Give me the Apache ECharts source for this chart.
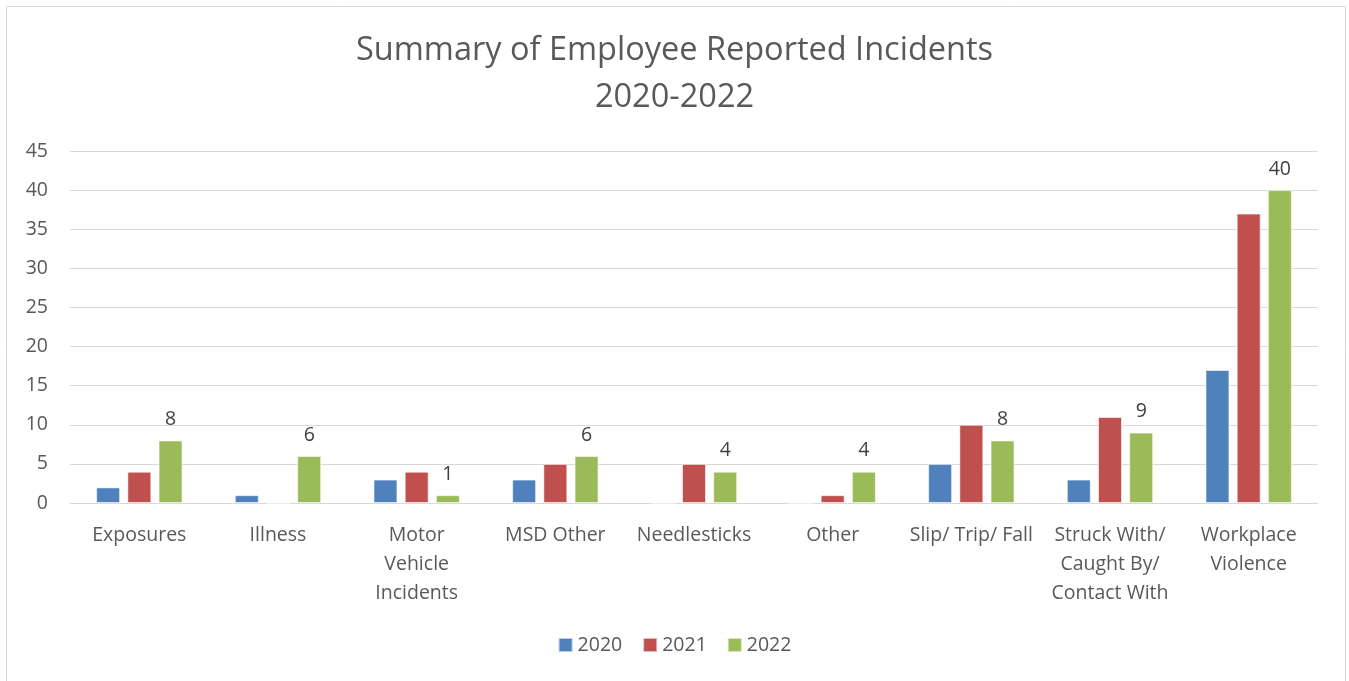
<!DOCTYPE html>
<html>
<head>
<meta charset="utf-8">
<script src="https://cdn.jsdelivr.net/npm/echarts@6/dist/echarts.min.js"></script>
<style>
html,body{margin:0;padding:0;background:#fff;}
#chart{width:1349px;height:681px;}
</style>
</head>
<body>
<div id="chart"></div>
<script>
const categories = ['Exposures','Illness','Motor\nVehicle\nIncidents','MSD Other','Needlesticks','Other','Slip/ Trip/ Fall','Struck With/\nCaught By/\nContact With','Workplace\nViolence'];
const years = ['2020','2021','2022'];
const values2020 = [2,1,3,3,0,0,5,3,17];
const values2021 = [4,0,4,5,5,1,10,11,37];
const values2022 = [8,6,1,6,4,4,8,9,40];
const colors = ['#4f81bd','#c0504d','#9bbb59'];
const font = '"Open Sans", "Liberation Sans", sans-serif';

const chart = echarts.init(document.getElementById('chart'));
const mkSeries = (name, data, color, label) => ({
  name, type:'bar', data,
  barWidth: 24, barGap: '30%',
  itemStyle:{color, borderColor:'rgba(255,255,255,0.6)', borderWidth:1},
  label:{show:label, position:'top', color:'#404040', fontSize:19.5, fontFamily:font, distance:11},
  emphasis:{disabled:true}
});
chart.setOption({
  animation:false,
  title:{
    text:'Summary of Employee Reported Incidents\n2020-2022',
    left:'center', top:22,
    textStyle:{color:'#595959', fontSize:32.5, fontWeight:'normal', fontFamily:font, lineHeight:47}
  },
  graphic:[{type:'rect', shape:{x:6.5,y:6.5,width:1339,height:690}, style:{fill:'none', stroke:'#d9d9d9', lineWidth:1}, silent:true}],
  legend:{
    bottom:21, left:'center', itemWidth:14, itemHeight:14, itemGap:20,
    icon:'rect',
    textStyle:{color:'#595959', fontSize:19.5, fontFamily:font}
  },
  grid:{left:70, right:31, top:151, bottom:178},
  xAxis:{
    type:'category', data:categories,
    axisLine:{lineStyle:{color:'#d9d9d9'}},
    axisTick:{show:false},
    axisLabel:{color:'#595959', fontSize:19.5, fontFamily:font, lineHeight:29, margin:18, interval:0}
  },
  yAxis:{
    type:'value', min:0, max:45, interval:5,
    axisLine:{show:false}, axisTick:{show:false},
    splitLine:{lineStyle:{color:'#d9d9d9', width:1}},
    axisLabel:{color:'#595959', fontSize:19.5, fontFamily:font, margin:22}
  },
  series:[
    mkSeries(years[0], values2020, colors[0], false),
    mkSeries(years[1], values2021, colors[1], false),
    mkSeries(years[2], values2022, colors[2], true)
  ]
});
</script>
</body>
</html>
